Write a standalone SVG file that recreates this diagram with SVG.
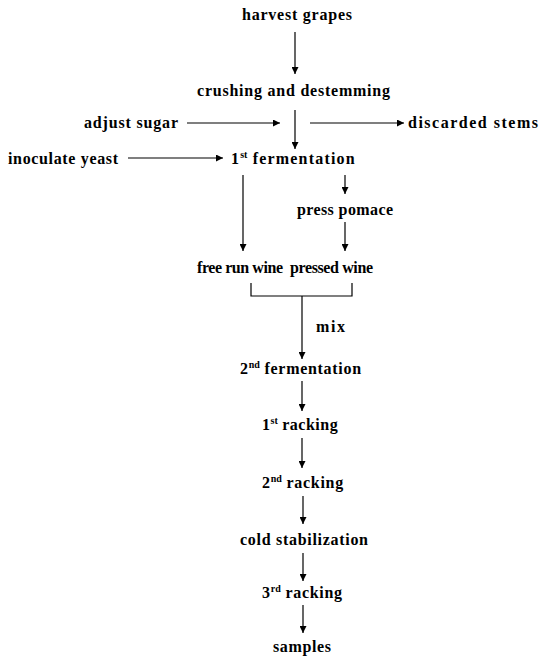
<svg xmlns="http://www.w3.org/2000/svg" width="539" height="657" viewBox="0 0 539 657">
<style>
text{font-weight:bold;font-size:16px;fill:#000}
.s{font-size:10px;letter-spacing:0}
line,polyline{stroke:#000;stroke-width:1.2;fill:none}
</style>
<defs>
<marker id="ah" viewBox="0 0 10 10" refX="10" refY="5" markerWidth="7" markerHeight="7" orient="auto" markerUnits="userSpaceOnUse">
<path d="M0,0 L10,5 L0,10 z" fill="#000"/>
</marker>
</defs>
<rect width="539" height="657" fill="#fff"/>
<g id="connectors">
<line x1="295" y1="32" x2="295" y2="74" marker-end="url(#ah)"/>
<line x1="295" y1="110" x2="295" y2="149" marker-end="url(#ah)"/>
<line x1="187" y1="123" x2="280" y2="123" marker-end="url(#ah)"/>
<line x1="310" y1="123" x2="404" y2="123" marker-end="url(#ah)"/>
<line x1="128" y1="158" x2="223" y2="158" marker-end="url(#ah)"/>
<line x1="243" y1="175" x2="243" y2="251" marker-end="url(#ah)"/>
<line x1="345" y1="175" x2="345" y2="194" marker-end="url(#ah)"/>
<line x1="345" y1="222" x2="345" y2="251" marker-end="url(#ah)"/>
<polyline points="251,283 251,296 352,296 352,283"/>
<line x1="302" y1="296" x2="302" y2="359" marker-end="url(#ah)"/>
<line x1="302" y1="381" x2="302" y2="411" marker-end="url(#ah)"/>
<line x1="302" y1="438" x2="302" y2="468" marker-end="url(#ah)"/>
<line x1="303" y1="496" x2="303" y2="524" marker-end="url(#ah)"/>
<line x1="303" y1="553" x2="303" y2="581" marker-end="url(#ah)"/>
<line x1="303" y1="605" x2="303" y2="633" marker-end="url(#ah)"/>
</g>
<g font-family="Liberation Serif">
<g id="harvest"><text x="242" y="20" textLength="110" lengthAdjust="spacing">harvest grapes</text></g>
<g id="crushing"><text x="197" y="96" textLength="193" lengthAdjust="spacing">crushing and destemming</text></g>
<g id="sugar"><text x="84" y="128" textLength="94" lengthAdjust="spacing">adjust sugar</text></g>
<g id="stems"><text x="408" y="128" textLength="130" lengthAdjust="spacing">discarded stems</text></g>
<g id="yeast"><text x="8" y="164" textLength="110" lengthAdjust="spacing">inoculate yeast</text></g>
<g id="ferm1"><text x="231" y="164" letter-spacing="1.2">1<tspan class="s" dy="-6">st</tspan><tspan dy="6"> fermentation</tspan></text></g>
<g id="pomace"><text x="297" y="215" textLength="96" lengthAdjust="spacing">press pomace</text></g>
<g id="freerun"><text x="197" y="273" textLength="86" lengthAdjust="spacing">free run wine</text></g>
<g id="pressed"><text x="290" y="273" textLength="83" lengthAdjust="spacing">pressed wine</text></g>
<g id="mix"><text x="316" y="332" textLength="29" lengthAdjust="spacing">mix</text></g>
<g id="ferm2"><text x="240" y="374" letter-spacing="0.7">2<tspan class="s" dy="-6">nd</tspan><tspan dy="6"> fermentation</tspan></text></g>
<g id="rack1"><text x="262" y="430" letter-spacing="0.5">1<tspan class="s" dy="-6">st</tspan><tspan dy="6"> racking</tspan></text></g>
<g id="rack2"><text x="262" y="488" letter-spacing="0.7">2<tspan class="s" dy="-6">nd</tspan><tspan dy="6"> racking</tspan></text></g>
<g id="cold"><text x="240" y="545" textLength="128" lengthAdjust="spacing">cold stabilization</text></g>
<g id="rack3"><text x="262" y="598" letter-spacing="0.7">3<tspan class="s" dy="-6">rd</tspan><tspan dy="6"> racking</tspan></text></g>
<g id="samples"><text x="273" y="652" textLength="58" lengthAdjust="spacing">samples</text></g>
</g>
</svg>
